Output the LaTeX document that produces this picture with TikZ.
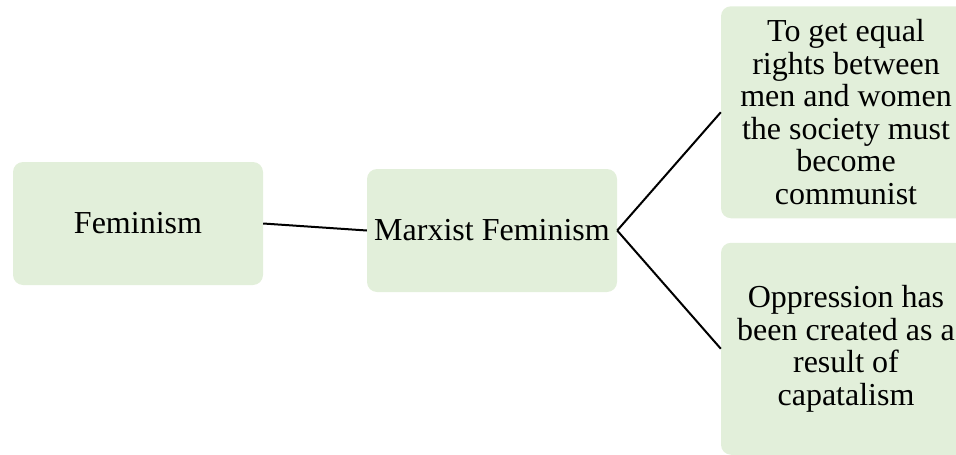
\documentclass[tikz,border=0pt]{standalone}
\usepackage{fontspec}
\setmainfont{Liberation Serif}
\definecolor{boxgreen}{RGB}{226,239,218}
\begin{document}
\begin{tikzpicture}[x=1pt,y=1pt,
				every node/.style={rounded corners=10pt,fill=boxgreen,minimum width=250pt,
					align=center,font=\fontsize{32}{32.5}\selectfont},
				minimum height=123pt,
				grow=right,level distance=354pt,
				parent anchor=east,child anchor=west,
				edge from parent/.style={draw,black,line width=2pt},
				level 2/.style={sibling distance=236.5pt,minimum height=212pt}]
\useasboundingbox (0,0) rectangle (956,-455);
\node (fem) at (138,-223.5) {Feminism}
child { node (marx) [yshift=-7pt] {Marxist Feminism}
	child { node (oppr) {Oppression has\\been created as a\\result of\\capatalism} }
	child { node (equal) {To get equal\\rights between\\men and women\\the society must\\become\\communist} }
};
\end{tikzpicture}
\end{document}
